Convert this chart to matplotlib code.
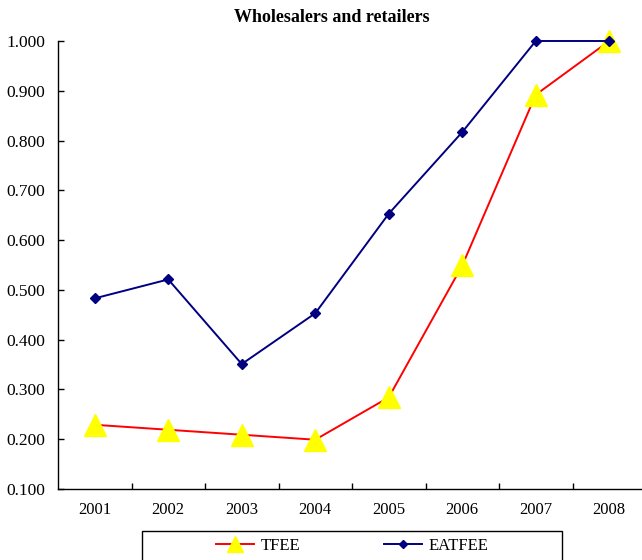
import numpy as np
import matplotlib
matplotlib.use('Agg')
import matplotlib.pyplot as plt
from matplotlib.patches import Rectangle
from matplotlib.ticker import FixedLocator, FormatStrFormatter

years = ['2001', '2002', '2003', '2004', '2005', '2006', '2007', '2008']
tfee = [0.229, 0.219, 0.209, 0.199, 0.284, 0.549, 0.892, 1.000]
eatfee = [0.483, 0.521, 0.351, 0.453, 0.653, 0.817, 1.000, 1.000]

plt.rcParams['font.family'] = ['Liberation Serif', 'DejaVu Serif']

fig = plt.figure(figsize=(6.42, 5.60), dpi=100)
ax = fig.add_axes([58 / 642, 71 / 560, 588 / 642, 448 / 560])

x = np.arange(1, len(years) + 1)
ax.plot(x, tfee, color='#FF0000', lw=1.4, marker='^', ms=16,
        mfc='#FFFF00', mec='#FFFF00', label='TFEE', clip_on=False, zorder=3)
ax.plot(x, eatfee, color='#000080', lw=1.4, marker='D', ms=5,
        mfc='#000080', mec='#000080', label='EATFEE', clip_on=False, zorder=4)

ax.set_xlim(0.5, len(years) + 0.5)
ax.set_ylim(0.1, 1.0)
ax.set_yticks(np.arange(0.1, 1.01, 0.1))
ax.yaxis.set_major_formatter(FormatStrFormatter('%.3f'))
ax.set_xticks(x)
ax.set_xticklabels(years)
ax.xaxis.set_minor_locator(FixedLocator(np.arange(1.5, len(years), 1.0)))
ax.tick_params(axis='x', which='major', length=0, pad=9, labelsize=12)
ax.tick_params(axis='x', which='minor', direction='in', length=4, width=1)
ax.tick_params(axis='y', direction='in', length=4, width=1, pad=9, labelsize=12.5)

for s in ['top', 'right']:
    ax.spines[s].set_visible(False)
for s in ['left', 'bottom']:
    ax.spines[s].set_linewidth(1)

fig.text(332 / 642, 1 - 17 / 560, 'Wholesalers and retailers', ha='center', va='center',
         fontsize=13, fontweight='bold')

# legend box, runs off the bottom of the picture
fig.patches.append(Rectangle((142 / 642, -0.05), 420 / 642, 29 / 560 + 0.05,
                             transform=fig.transFigure, fill=False,
                             edgecolor='black', lw=1))
fig.legend(loc='center', bbox_to_anchor=(352 / 642, 1 - 546 / 560), ncol=2,
           frameon=False, fontsize=12, handlelength=2.3, columnspacing=5.0,
           handletextpad=0.4, markerscale=0.75)

fig.savefig('out.png', dpi=100)
